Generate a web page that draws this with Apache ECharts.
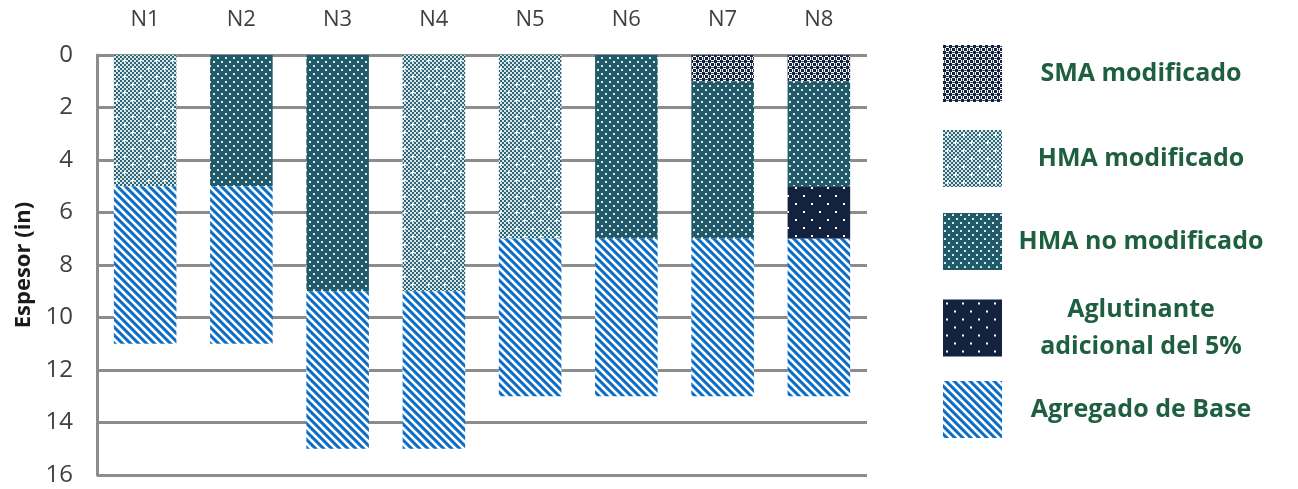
<!DOCTYPE html>
<html>
<head>
<meta charset="utf-8">
<script src="https://cdn.jsdelivr.net/npm/echarts@6/dist/echarts.min.js"></script>
<style>
  html, body { margin: 0; padding: 0; background: #ffffff; }
  #chart { width: 1298px; height: 489px; }
</style>
</head>
<body>
<div id="chart"></div>
<script>
// Pavement structure sections and layer thicknesses (inches)
const categories = ['N1', 'N2', 'N3', 'N4', 'N5', 'N6', 'N7', 'N8'];
const smaModificado     = [0, 0, 0, 0, 0, 0, 1, 1];
const hmaModificado     = [5, 0, 0, 9, 7, 0, 0, 0];
const hmaNoModificado   = [0, 5, 9, 0, 0, 7, 6, 4];
const aglutinante5      = [0, 0, 0, 0, 0, 0, 0, 2];
const agregadoBase      = [6, 6, 6, 6, 6, 6, 6, 6];
const yTicks = [0, 2, 4, 6, 8, 10, 12, 14, 16];

const layerNames = ['SMA modificado', 'HMA modificado', 'HMA no modificado',
                    'Aglutinante\nadicional del 5%', 'Agregado de Base'];
const layerData = [smaModificado, hmaModificado, hmaNoModificado, aglutinante5, agregadoBase];

// --- fill patterns drawn on small canvases ---
function tile(size, draw) {
  const c = document.createElement('canvas');
  c.width = size; c.height = size;
  const ctx = c.getContext('2d');
  draw(ctx, size);
  return c;
}

const NAVY = '#13233f';
const TEAL = '#215b6a';

// SMA: navy weave with white checks
const patSMA = tile(6, (ctx) => {
  ctx.fillStyle = '#ffffff'; ctx.fillRect(0, 0, 6, 6);
  ctx.fillStyle = NAVY;
  ctx.fillRect(0, 0, 3, 3);
  ctx.fillRect(3, 3, 3, 3);
  ctx.fillRect(4, 1, 1, 1);
  ctx.fillRect(1, 4, 1, 1);
  ctx.fillStyle = '#5d6b82';
  ctx.fillRect(3, 1, 1, 1);
  ctx.fillRect(5, 1, 1, 1);
  ctx.fillRect(1, 3, 1, 1);
  ctx.fillRect(1, 5, 1, 1);
});

// HMA modificado: fine teal/white checker with white stars
const patHMAm = tile(16, (ctx) => {
  for (let y = 0; y < 16; y++) {
    for (let x = 0; x < 16; x++) {
      ctx.fillStyle = ((Math.floor(x / 2) + Math.floor(y / 2)) % 2 === 0) ? '#2c6676' : '#d9e6ea';
      ctx.fillRect(x, y, 1, 1);
    }
  }
  ctx.fillStyle = '#ffffff';
  [[4, 4], [12, 12]].forEach(([cx, cy]) => {
    ctx.fillRect(cx - 1, cy, 3, 1);
    ctx.fillRect(cx, cy - 1, 1, 3);
  });
});

// HMA no modificado: teal with staggered white dots
const patHMAn = tile(8, (ctx) => {
  ctx.fillStyle = TEAL; ctx.fillRect(0, 0, 8, 8);
  ctx.fillStyle = '#dbe8eb';
  ctx.fillRect(1, 1, 2, 2);
  ctx.fillRect(5, 5, 2, 2);
});

// Aglutinante: navy with sparse white dots
const patAgl = tile(16, (ctx) => {
  ctx.fillStyle = NAVY; ctx.fillRect(0, 0, 16, 16);
  ctx.fillStyle = '#ffffff';
  ctx.fillRect(3, 3, 2, 2);
  ctx.fillRect(11, 11, 2, 2);
});

// Agregado de base: blue diagonal stripes
const patBase = tile(8, (ctx) => {
  const img = ctx.createImageData(8, 8);
  for (let y = 0; y < 8; y++) {
    for (let x = 0; x < 8; x++) {
      const p = (((x - y) % 8) + 8) % 8;
      const d = Math.abs(p + 0.5 - 3.5) / 4;
      const t = Math.max(0, Math.min(1, (d - 0.35) / 0.4));
      const i = (y * 8 + x) * 4;
      img.data[i]     = Math.round(10 + (255 - 10) * t);
      img.data[i + 1] = Math.round(110 + (255 - 110) * t);
      img.data[i + 2] = Math.round(200 + (255 - 200) * t);
      img.data[i + 3] = 255;
    }
  }
  ctx.putImageData(img, 0, 0);
});

const patterns = [patSMA, patHMAm, patHMAn, patAgl, patBase];

const chart = echarts.init(document.getElementById('chart'), null, { renderer: 'canvas' });

const legendTops = [45, 130, 213, 297, 381];

const option = {
  animation: false,
  backgroundColor: '#ffffff',
  grid: { left: 97, right: 431, top: 55, bottom: 14, containLabel: false },
  xAxis: {
    type: 'category',
    data: categories,
    position: 'top',
    axisLine: { show: false },
    axisTick: { show: false },
    axisLabel: {
      margin: 24,
      fontFamily: 'Open Sans',
      fontSize: 22,
      color: '#404040'
    }
  },
  yAxis: {
    type: 'value',
    inverse: true,
    min: yTicks[0],
    max: yTicks[yTicks.length - 1],
    interval: 2,
    name: 'Espesor (in)',
    nameLocation: 'middle',
    nameGap: 56,
    nameRotate: 90,
    nameTextStyle: {
      fontFamily: 'Open Sans',
      fontWeight: 'bold',
      fontSize: 22,
      color: '#1a1a1a'
    },
    axisLine: { show: true, lineStyle: { color: '#8c8c8c', width: 3 } },
    axisTick: { show: false },
    axisLabel: {
      margin: 24,
      fontFamily: 'Open Sans',
      fontSize: 24,
      color: '#404040',
      formatter: (v) => (yTicks.includes(v) ? String(v) : '')
    },
    splitLine: { show: true, lineStyle: { color: '#8c8c8c', width: 3 } }
  },
  legend: layerNames.map((name, i) => ({
    data: [name],
    left: 943,
    top: legendTops[i],
    padding: 0,
    orient: 'vertical',
    icon: 'rect',
    itemWidth: 59,
    itemHeight: 57,
    itemGap: 0,
    selectedMode: false,
    formatter: (n) => n.split('\n').map((line) => '{t|' + line + '}').join('\n'),
    textStyle: {
      rich: {
        t: {
          fontFamily: 'Open Sans',
          fontWeight: 'bold',
          fontSize: 25,
          lineHeight: 37,
          color: '#1e5f3f',
          width: 268,
          align: 'center'
        }
      }
    }
  })),
  series: layerNames.map((name, i) => ({
    name: name,
    type: 'bar',
    stack: 'capas',
    barWidth: '65%',
    data: layerData[i],
    itemStyle: {
      color: { image: patterns[i], repeat: 'repeat' }
    }
  }))
};

chart.setOption(option);
</script>
</body>
</html>
